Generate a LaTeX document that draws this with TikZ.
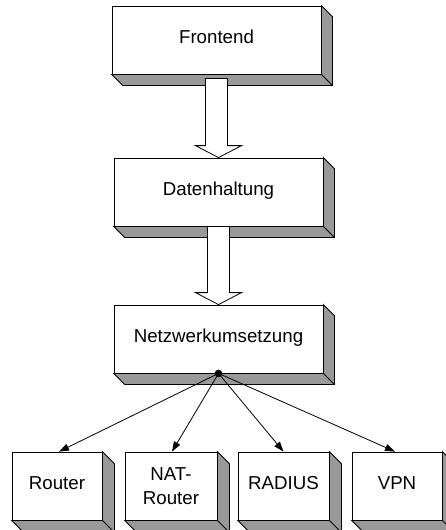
\documentclass[tikz,border=0pt]{standalone}
\usepackage{fontspec}
\setmainfont{Liberation Sans}
\usetikzlibrary{calc,arrows.meta}

\definecolor{shadegray}{RGB}{153,153,153}

\tikzset{
  face/.style={draw, fill=white, line width=0.8pt, inner sep=0pt,
    font=\fontsize{18.7}{24}\selectfont, align=center},
  onerow/.style={text height=0.716em, text depth=0pt},
  bigbox/.style={face, onerow, minimum width=209pt, minimum height=68pt},
  smallbox/.style={face, minimum height=68pt},
  side/.style={draw, fill=shadegray, line width=0.8pt, line join=miter},
  flow/.style={draw, fill=white, line width=0.8pt, line join=miter},
  link/.style={line width=0.8pt, -{Triangle[length=10pt,width=7pt]}},
}

% grey side and bottom faces of a raised box
\newcommand\extrude[2]{%
  \draw[side] (#1.north east) -- ++(#2,#2) -- ($(#1.south east)+(#2,#2)$)
    -- ($(#1.south west)+(#2,#2)$) -- (#1.south west) -- (#1.south east) -- cycle;
  \draw[line width=0.8pt] (#1.south east) -- ++(#2,#2);
}

% hollow block arrow from the bottom of one box to the top of the next
\newcommand\hollow[3]{%
  \coordinate (#1-sl) at ($(#1.south)+(-11,#3)$);
  \coordinate (#1-sr) at ($(#1.south)+(11,#3)$);
  \coordinate (#1-hl) at ($(#2.north)+(-23,-12)$);
  \coordinate (#1-hr) at ($(#2.north)+(23,-12)$);
  \draw[flow] (#1-sl) -- (#1-sl |- #1-hl) -- (#1-hl) -- (#2.north) -- (#1-hr)
    -- (#1-sr |- #1-hr) -- (#1-sr) -- cycle;
}

\begin{document}
\begin{tikzpicture}[x=1pt, y=-1pt]
  \useasboundingbox (0,0) rectangle (445,530);

  % layers
  \node[bigbox] (fe) at (216.5,40)  {Frontend};
  \node[bigbox] (dh) at (218.5,192) {Datenhaltung};
  \node[bigbox] (nw) at (218.5,339) {Netzwerkumsetzung};

  % network components
  \node[smallbox, onerow, minimum width=90pt] (rt)  at (57,486)    {Router};
  \node[smallbox, minimum width=92pt]         (nat) at (171,486)   {NAT-\\Router};
  \node[smallbox, onerow, minimum width=91pt] (rad) at (283.5,486) {RADIUS};
  \node[smallbox, onerow, minimum width=90pt] (vpn) at (397,486)   {VPN};

  \extrude{fe}{11}
  \extrude{dh}{11}
  \extrude{nw}{11}
  \extrude{rt}{12}
  \extrude{nat}{12}
  \extrude{rad}{12}
  \extrude{vpn}{12}

  \hollow{fe}{dh}{4}
  \hollow{dh}{nw}{0}

  % fan-out from the network layer
  \fill (nw.south) circle (3.8pt);
  \draw[link] (nw.south) -- ($(rt.north)+(2,0)$);
  \draw[link] (nw.south) -- ($(nat.north)+(1,0)$);
  \draw[link] (nw.south) -- (rad.north);
  \draw[link] (nw.south) -- ($(vpn.north)+(-2,0)$);
\end{tikzpicture}
\end{document}
